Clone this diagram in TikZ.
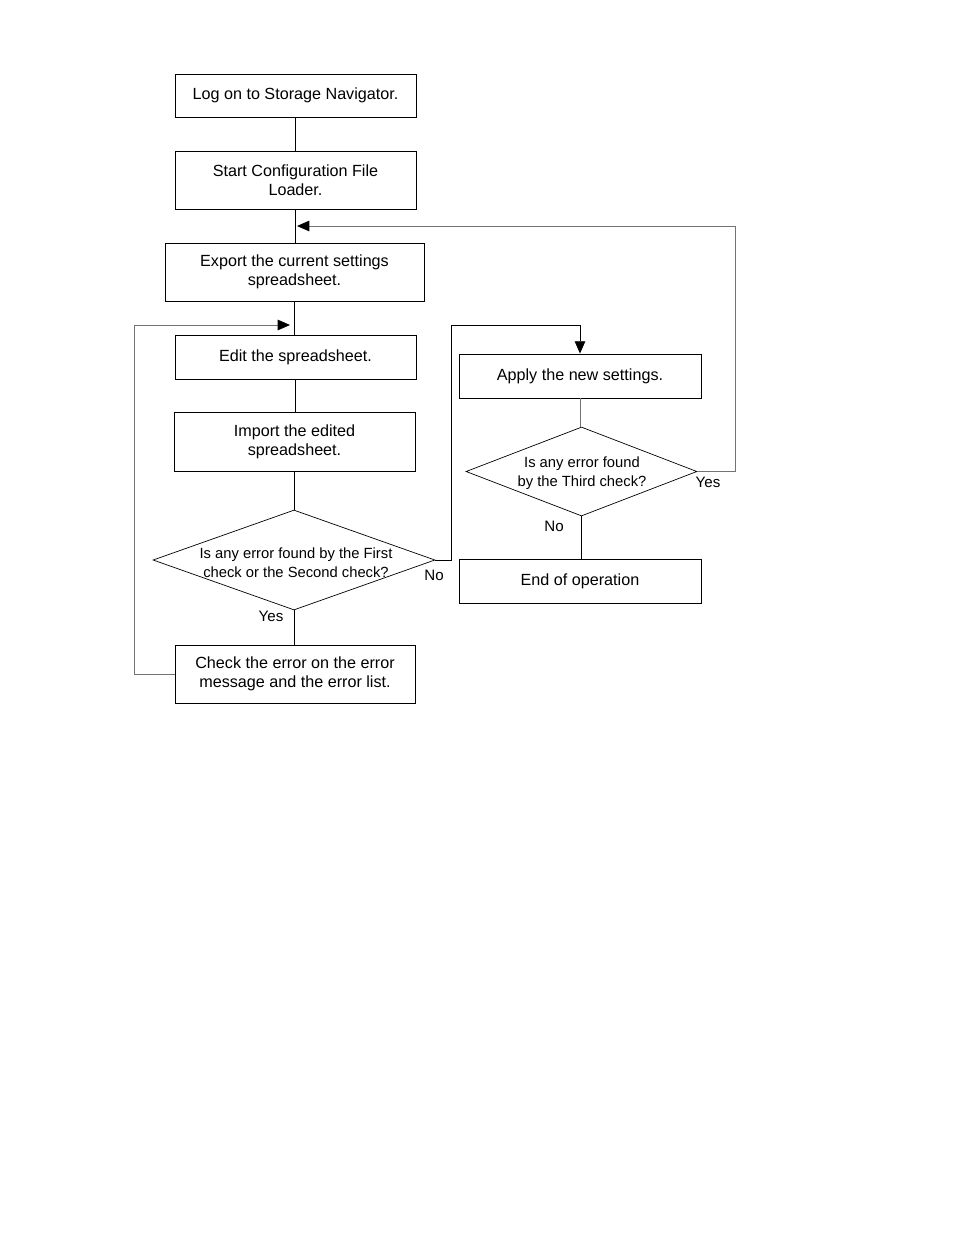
\documentclass[tikz,border=0pt]{standalone}
\usepackage{fontspec}
\setmainfont{Liberation Sans}
\usetikzlibrary{arrows.meta,shapes.geometric}

\begin{document}
\begin{tikzpicture}[x=0.02cm,y=-0.02cm,font=\fontsize{9.2}{10.9}\selectfont,
  stepbox/.style={draw,line width=.5pt,align=center,inner sep=0pt},
  decision/.style={draw,diamond,line width=.4pt,align=center,inner sep=0pt},
  asktext/.style={align=center,font=\fontsize{8.4}{10.9}\selectfont},
  answer/.style={font=\fontsize{8.6}{10}\selectfont},
  link/.style={line width=.5pt},
  loop/.style={line width=.5pt,draw=black!55},
  tip/.style={-{Triangle[length=7pt,width=6pt,color=black]}}]
  \useasboundingbox (0,0) rectangle (954,1235);
  % left column
  \node[stepbox,minimum width=4.82cm,minimum height=.86cm] (logon) at (295.5,95.5) {Log on to Storage Navigator.};
  \node[stepbox,minimum width=4.82cm,minimum height=1.16cm] (start) at (295.5,180) {Start Configuration File\\Loader.};
  \node[stepbox,minimum width=5.18cm,minimum height=1.16cm] (export) at (294.5,272) {Export the current settings\\spreadsheet.};
  \node[stepbox,minimum width=4.82cm,minimum height=.88cm] (edit) at (295.5,357) {Edit the spreadsheet.};
  \node[stepbox,minimum width=4.82cm,minimum height=1.18cm] (import) at (294.5,441.5) {Import the edited\\spreadsheet.};
  \node[decision,minimum width=5.64cm,minimum height=2cm] (checkA) at (294,560) {};
  \node[asktext] (checkAtext) at (296,562.5) {Is any error found by the First\\check or the Second check?};
  \node[stepbox,minimum width=4.8cm,minimum height=1.16cm] (errlist) at (295,674) {Check the error on the error\\message and the error list.};
  % right column
  \node[stepbox,minimum width=4.84cm,minimum height=.88cm] (apply) at (580,376) {Apply the new settings.};
  \node[decision,minimum width=4.62cm,minimum height=1.78cm] (checkB) at (581.5,471.5) {};
  \node[asktext] (checkBtext) at (582,473.5) {Is any error found\\by the Third check?};
  \node[stepbox,minimum width=4.84cm,minimum height=.88cm] (done) at (580,581) {End of operation};
  % labels
  \node[answer] (yesA) at (271,616) {Yes};
  \node[answer] (noA) at (434,575) {No};
  \node[answer] (noB) at (554,526) {No};
  \node[answer] (yesB) at (708,482) {Yes};
  \coordinate (exportin) at (297,226);
  \coordinate (editin) at (290,325);
  \coordinate (applyin) at (580,325);
  % connectors
  \draw[link] (logon.south) -- (logon.south |- start.north);
  \draw[link] (start.south) -- (start.south |- export.north);
  \draw[link] (export.south) -- (export.south |- edit.north);
  \draw[link] (edit.south) -- (edit.south |- import.north);
  \draw[link] (import.south) -- (import.south |- checkA.north);
  \draw[link] (checkA.south) -- (checkA.south |- errlist.north);
  \draw[loop] (apply.south) -- (apply.south |- checkB.north);
  \draw[link] (checkB.south) -- (checkB.south |- done.north);
  \draw[loop,tip] (errlist.west) -- ++(-40,0) |- (editin);
  \draw[link,tip] (checkA.east) -- ++(16,0) |- (applyin) -- (apply.north);
  \draw[loop,tip] (checkB.east) -- ++(38,0) |- (exportin);
\end{tikzpicture}
\end{document}
